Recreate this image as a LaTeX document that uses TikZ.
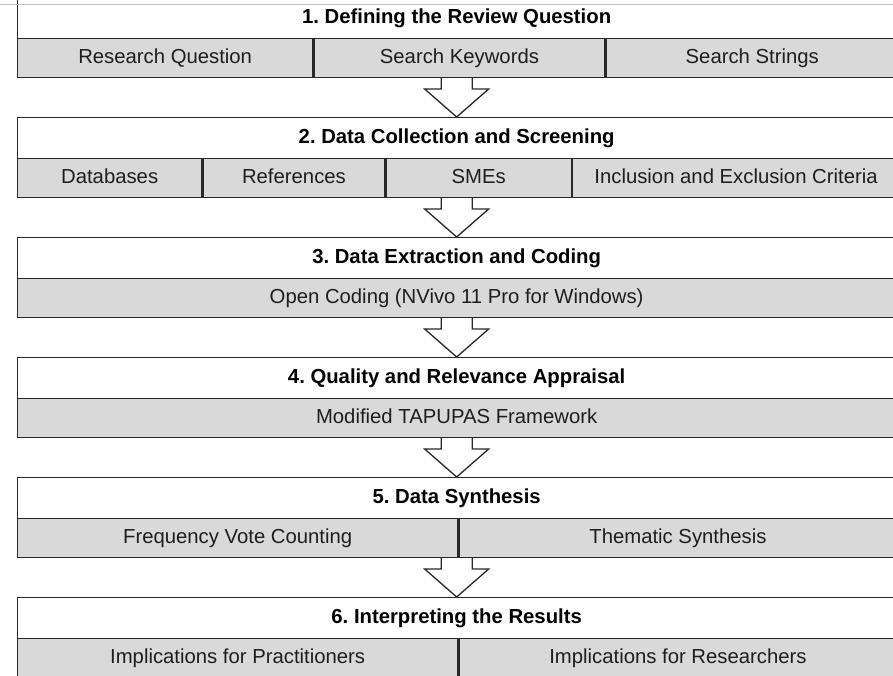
\documentclass[tikz,border=0pt]{standalone}
\usepackage{fontspec}
\setmainfont{Liberation Sans}
\usepackage{xcolor}
\usetikzlibrary{positioning}
\frenchspacing

\definecolor{cellgray}{RGB}{217,217,217}
\definecolor{edgegray}{RGB}{40,40,40}
\definecolor{textgray}{RGB}{30,30,30}

\tikzset{
  titlebox/.style={draw=edgegray, line width=1.3pt, fill=white, anchor=north west,
    minimum width=878pt, minimum height=41pt, inner sep=0pt,
    text height=14pt, text depth=4pt,
    font=\fontsize{20.3}{22}\selectfont\bfseries, text=black},
  cellbox/.style={draw=edgegray, line width=1.3pt, fill=cellgray, anchor=north west,
    minimum height=39pt, inner sep=0pt,
    text height=14pt, text depth=4pt,
    font=\fontsize{20.3}{22}\selectfont, text=textgray},
  blockarrow/.style={draw=edgegray, line width=1.3pt, fill=white, line join=miter}
}

\begin{document}
\begin{tikzpicture}[x=1pt, y=-1pt]
\useasboundingbox (0,0) rectangle (893,675);
\clip (0,0) rectangle (893,675);

% 1
\node[titlebox] (t1) at (17,-3) {1. Defining the Review Question};
\node[cellbox, minimum width=295pt] (c11) at (17,38) {Research Question};
\node[cellbox, minimum width=291pt, right=0pt of c11] (c12) {Search Keywords};
\node[cellbox, minimum width=292pt, right=0pt of c12] (c13) {Search Strings};

% 2
\node[titlebox] (t2) at (17,117) {2. Data Collection and Screening};
\node[cellbox, minimum width=184pt] (c21) at (17,158) {Databases};
\node[cellbox, minimum width=182pt, right=0pt of c21] (c22) {References};
\node[cellbox, minimum width=185pt, right=0pt of c22] (c23) {SMEs};
\node[cellbox, minimum width=327pt, right=0pt of c23] (c24) {Inclusion and Exclusion Criteria};

% 3
\node[titlebox] (t3) at (17,237) {3. Data Extraction and Coding};
\node[cellbox, minimum width=878pt] (c31) at (17,278) {Open Coding (NVivo 11 Pro for Windows)};

% 4
\node[titlebox] (t4) at (17,357) {4. Quality and Relevance Appraisal};
\node[cellbox, minimum width=878pt] (c41) at (17,398) {Modified TAPUPAS Framework};

% 5
\node[titlebox] (t5) at (17,477) {5. Data Synthesis};
\node[cellbox, minimum width=440pt] (c51) at (17,518) {Frequency Vote Counting};
\node[cellbox, minimum width=438pt, right=0pt of c51] (c52) {Thematic Synthesis};

% 6
\node[titlebox] (t6) at (17,597) {6. Interpreting the Results};
\node[cellbox, minimum width=440pt] (c61) at (17,638) {Implications for Practitioners};
\node[cellbox, minimum width=438pt, right=0pt of c61] (c62) {Implications for Researchers};

% arrows between the stages
\foreach \n in {2,...,6}
  \draw[blockarrow] (t\n.north) ++(-15.5,-39) -- ++(0,11) -- ++(-16.5,0)
    -- (t\n.north) -- ++(32,-28) -- ++(-16.5,0) -- ++(0,-11);

\draw[black!25, line width=0.8pt] (0,4.5) -- (893,4.5);
\end{tikzpicture}
\end{document}
